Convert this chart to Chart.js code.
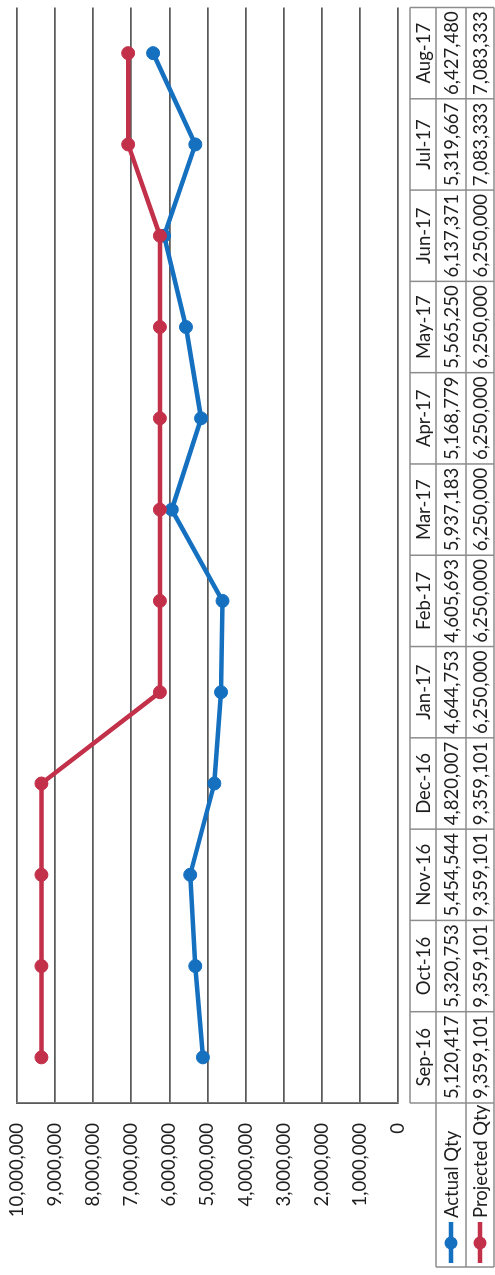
<!DOCTYPE html>
<html>
<head>
<meta charset="utf-8">
<script src="https://cdn.jsdelivr.net/npm/chart.js@4/dist/chart.umd.min.js"></script>
<style>
  html, body { margin:0; padding:0; background:#fff; overflow:hidden; width:495px; height:1275px; }
  #wrap { position:absolute; left:0; top:0; width:1275px; height:495px;
          transform-origin:0 0; transform:translateY(1275px) rotate(-90deg); background:#fff; }
</style>
</head>
<body>
<div id="wrap"><canvas id="c" width="1275" height="495"></canvas></div>
<script>
const categories = ['Sep-16','Oct-16','Nov-16','Dec-16','Jan-17','Feb-17','Mar-17','Apr-17','May-17','Jun-17','Jul-17','Aug-17'];
const actualQty = [5120417, 5320753, 5454544, 4820007, 4644753, 4605693, 5937183, 5168779, 5565250, 6137371, 5319667, 6427480];
const projectedQty = [9359101, 9359101, 9359101, 9359101, 6250000, 6250000, 6250000, 6250000, 6250000, 6250000, 7083333, 7083333];
const seriesNames = ['Actual Qty', 'Projected Qty'];
const valueTicks = [0, 1000000, 2000000, 3000000, 4000000, 5000000, 6000000, 7000000, 8000000, 9000000, 10000000];

const BLUE = '#1570c0';
const RED = '#c3304a';
const FONT = '"Lato", "Liberation Sans", sans-serif';
const FSIZE = 18.5;
const TEXT = '#1e1e1e';
const fmt = v => Number(v).toLocaleString('en-US');

const tablePlugin = {
  id: 'dataTable',
  afterDraw(chart) {
    const ctx = chart.ctx, xs = chart.scales.x, a = chart.chartArea;
    const n = categories.length;
    const rows = [410, 436, 466, 494];
    const legLeft = 8;
    ctx.save();
    ctx.strokeStyle = '#8c8c8c';
    ctx.lineWidth = 1.5;
    const ln = (x1, y1, x2, y2) => { ctx.beginPath(); ctx.moveTo(x1, y1); ctx.lineTo(x2, y2); ctx.stroke(); };
    ln(a.left, rows[0], a.right, rows[0]);
    ln(legLeft, rows[1], a.right, rows[1]);
    ln(legLeft, rows[2], a.right, rows[2]);
    ln(legLeft, rows[3], a.right, rows[3]);
    const bounds = [a.left];
    for (let i = 1; i < n; i++) bounds.push((xs.getPixelForValue(i - 1) + xs.getPixelForValue(i)) / 2);
    bounds.push(a.right);
    bounds.forEach(x => ln(x, rows[0], x, rows[3]));
    ln(legLeft, rows[1], legLeft, rows[3]);

    ctx.fillStyle = TEXT;
    ctx.font = FSIZE + 'px ' + FONT;
    ctx.textAlign = 'center';
    ctx.textBaseline = 'middle';
    const series = [actualQty, projectedQty];
    for (let i = 0; i < n; i++) {
      const cx = xs.getPixelForValue(i);
      ctx.fillText(categories[i], cx, (rows[0] + rows[1]) / 2 + 1);
      series.forEach((s, k) => ctx.fillText(fmt(s[i]), cx, (rows[k + 1] + rows[k + 2]) / 2 + 1));
    }
    const colors = [BLUE, RED];
    seriesNames.forEach((name, k) => {
      const cy = (rows[k + 1] + rows[k + 2]) / 2;
      ctx.strokeStyle = colors[k];
      ctx.lineWidth = 4.5;
      ln(12, cy, 53, cy);
      ctx.fillStyle = colors[k];
      ctx.beginPath(); ctx.arc(32, cy, 6.5, 0, Math.PI * 2); ctx.fill();
      ctx.fillStyle = TEXT;
      ctx.textAlign = 'left';
      ctx.fillText(name, 57, cy + 1);
    });
    ctx.restore();
  }
};

const zeroPad = s => { s.paddingTop = 0; s.paddingBottom = 0; s.paddingLeft = 0; s.paddingRight = 0; };

new Chart(document.getElementById('c'), {
  type: 'line',
  data: {
    labels: categories,
    datasets: [
      { label: seriesNames[0], data: actualQty, borderColor: BLUE, backgroundColor: BLUE,
        pointBackgroundColor: BLUE, pointBorderColor: BLUE, borderWidth: 4.5, pointRadius: 6.5,
        pointBorderWidth: 1, tension: 0, order: 1 },
      { label: seriesNames[1], data: projectedQty, borderColor: RED, backgroundColor: RED,
        pointBackgroundColor: RED, pointBorderColor: RED, borderWidth: 4.5, pointRadius: 6.5,
        pointBorderWidth: 1, tension: 0, order: 0 }
    ]
  },
  options: {
    responsive: false,
    animation: false,
    devicePixelRatio: 1,
    layout: { padding: { top: 17, right: 3, left: 0, bottom: 0 } },
    plugins: { legend: { display: false }, tooltip: { enabled: false } },
    scales: {
      x: {
        type: 'category', offset: true,
        grid: { display: false, drawTicks: false },
        border: { display: false },
        ticks: { display: false },
        afterFit(s) { s.height = 97; zeroPad(s); }
      },
      y: {
        min: 0, max: 10000000,
        afterBuildTicks(s) { s.ticks = valueTicks.map(v => ({ value: v })); },
        grid: { color: '#5a5a5a', lineWidth: 1.8, drawTicks: false },
        border: { display: true, color: '#5a5a5a', width: 1.8 },
        ticks: { padding: 20, color: TEXT, font: { family: FONT, size: FSIZE }, callback: v => fmt(v) },
        afterFit(s) { s.width = 172; zeroPad(s); }
      }
    }
  },
  plugins: [tablePlugin]
});
</script>
</body>
</html>
